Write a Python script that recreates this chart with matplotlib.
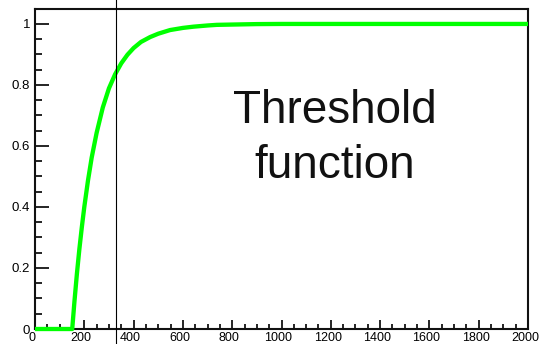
import matplotlib.pyplot as plt
import matplotlib.transforms as mtransforms
import numpy as np

# threshold response curve (sampled)
x_vals = [0, 151, 160, 170, 180, 190, 200, 215, 230, 250, 275, 300, 325,
          350, 375, 400, 430, 467, 500, 548, 600, 642, 700, 737, 800, 900,
          1000, 2000]
y_vals = [0.0, 0.0, 0.090, 0.181, 0.262, 0.334, 0.400, 0.487, 0.562, 0.643,
          0.726, 0.789, 0.835, 0.871, 0.899, 0.921, 0.941, 0.957, 0.968,
          0.980, 0.987, 0.991, 0.995, 0.997, 0.998, 0.9995, 1.0, 1.0]
cut_x = 328

x_ticks = [0, 200, 400, 600, 800, 1000, 1200, 1400, 1600, 1800, 2000]
x_labels = ['0', '200', '400', '600', '800', '1000', '1200', '1400', '1600', '1800', '2000']
y_ticks = [0, 0.2, 0.4, 0.6, 0.8, 1.0]
y_labels = ['0', '0.2', '0.4', '0.6', '0.8', '1']

plt.rcParams['font.family'] = ['Liberation Sans', 'DejaVu Sans']

fig = plt.figure(figsize=(5.42, 3.44), dpi=100)
ax = fig.add_axes([35 / 542, 15 / 344, 493 / 542, 320 / 344])

ax.plot(x_vals, y_vals, color='#00ff00', lw=3.1, solid_joinstyle='round',
        solid_capstyle='butt', zorder=3, clip_on=False)
ax.axvline(cut_x, ymin=-0.05, ymax=1.03, color='black', lw=0.8, clip_on=False, zorder=4)

ax.set_xlim(0, 2000)
ax.set_ylim(0, 1.049)

ax.set_xticks(x_ticks)
ax.set_xticklabels(x_labels, fontsize=9)
ax.set_yticks(y_ticks)
ax.set_yticklabels(y_labels, fontsize=9.5)
ax.set_xticks(np.arange(0, 2001, 50), minor=True)
ax.set_yticks(np.arange(0, 1.01, 0.05), minor=True)

ax.tick_params(axis='x', which='major', direction='in', length=6.5, width=1.2, pad=2)
ax.tick_params(axis='x', which='minor', direction='in', length=3.6, width=1.2)
ax.tick_params(axis='y', which='major', direction='in', length=10, width=1.2, pad=3.5)
ax.tick_params(axis='y', which='minor', direction='in', length=5, width=1.2)

shift = mtransforms.ScaledTranslation(-3 / 100, 0, fig.dpi_scale_trans)
for lbl in ax.get_xticklabels():
    lbl.set_transform(lbl.get_transform() + shift)

for sp in ax.spines.values():
    sp.set_linewidth(1.5)
    sp.set_color('#111111')

ax.text(1217, 0.675, 'Threshold', fontsize=33, ha='center', va='baseline', color='#111111')
ax.text(1217, 0.495, 'function', fontsize=33, ha='center', va='baseline', color='#111111')

fig.savefig('out.png', dpi=100)
